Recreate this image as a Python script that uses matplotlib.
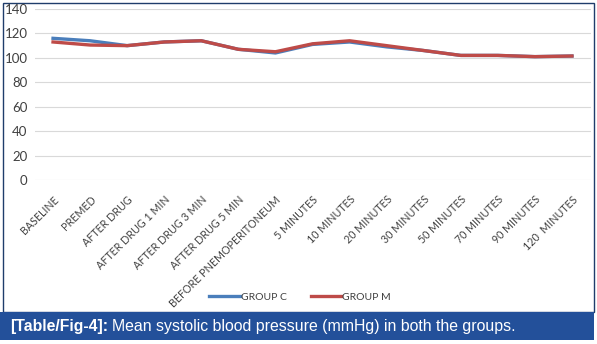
import matplotlib
matplotlib.use("Agg")
import matplotlib.pyplot as plt
from matplotlib.patches import Rectangle

categories = ["BASELINE", "PREMED", "AFTER DRUG", "AFTER DRUG 1 MIN", "AFTER DRUG 3 MIN",
              "AFTER DRUG 5 MIN", "BEFORE PNEMOPERITONEUM", "5 MINUTES", "10 MINUTES",
              "20 MINUTES", "30 MINUTES", "50 MINUTES", "70 MINUTES", "90 MINUTES", "120  MINUTES"]
group_c = [116, 114, 110, 113, 114, 107, 104, 111, 113, 109, 106, 102, 102, 101, 101.5]
group_m = [113, 110.5, 110, 113, 114, 107, 105, 111.5, 114, 110, 106, 102, 102, 101, 101.5]
yticks = [0, 20, 40, 60, 80, 100, 120, 140]

W, H = 597, 344
fig = plt.figure(figsize=(W / 100, H / 100), dpi=100)

# frame around chart + caption bar
fig.patches.append(Rectangle((3 / W, 1 - 312 / H), 591 / W, 309 / H, transform=fig.transFigure,
                             facecolor="white", edgecolor="#1f3d6b", lw=1.0, zorder=0))
fig.patches.append(Rectangle((0, 1 - 340 / H), 594 / W, 28 / H, transform=fig.transFigure,
                             facecolor="#23509a", edgecolor="none", zorder=1))

ax = fig.add_axes([34.5 / W, 1 - 180 / H, 556 / W, 171 / H])
ax.set_zorder(3)
ax.set_facecolor("none")
x = range(len(categories))
ax.plot(x, group_c, color="#4a7ebb", lw=2.4, label="GROUP C", solid_joinstyle="round")
ax.plot(x, group_m, color="#be4b48", lw=2.4, label="GROUP M", solid_joinstyle="round")

ax.set_xlim(-0.5, len(categories) - 0.5)
ax.set_ylim(0, 140)
ax.set_yticks(yticks)
ax.grid(axis="y", color="#d9d9d9", lw=0.8)
ax.set_axisbelow(True)
for s in ax.spines.values():
    s.set_visible(False)
ax.tick_params(length=0, colors="#404040")
ax.tick_params(axis="y", labelsize=9.5, pad=5)
ax.set_xticks(list(x))
ax.set_xticklabels(categories, rotation=45, ha="right", rotation_mode="anchor",
                   fontsize=7.7, family="Lato")
ax.tick_params(axis="x", pad=10)
for t in ax.get_yticklabels():
    t.set_family("Lato")

leg = fig.legend(loc="center", bbox_to_anchor=(300 / W, 1 - 297 / H), ncol=2, frameon=False,
                 handlelength=2.9, columnspacing=2.3, handletextpad=0.1,
                 prop={"family": "Lato", "size": 7.5})
leg.set_zorder(4)
for t in leg.get_texts():
    t.set_color("#404040")

t1 = fig.text(10 / W, 1 - 326 / H, "[Table/Fig-4]:", color="white", fontsize=11.4,
              fontweight="bold", family="Liberation Sans", va="center", zorder=5)
fig.canvas.draw()
bb = t1.get_window_extent()
fig.text(bb.x1 / W + 4 / W, 1 - 326 / H, "Mean systolic blood pressure (mmHg) in both the groups.",
         color="white", fontsize=11.4, family="Liberation Sans", va="center", zorder=5)

fig.savefig("out.png", dpi=100)
